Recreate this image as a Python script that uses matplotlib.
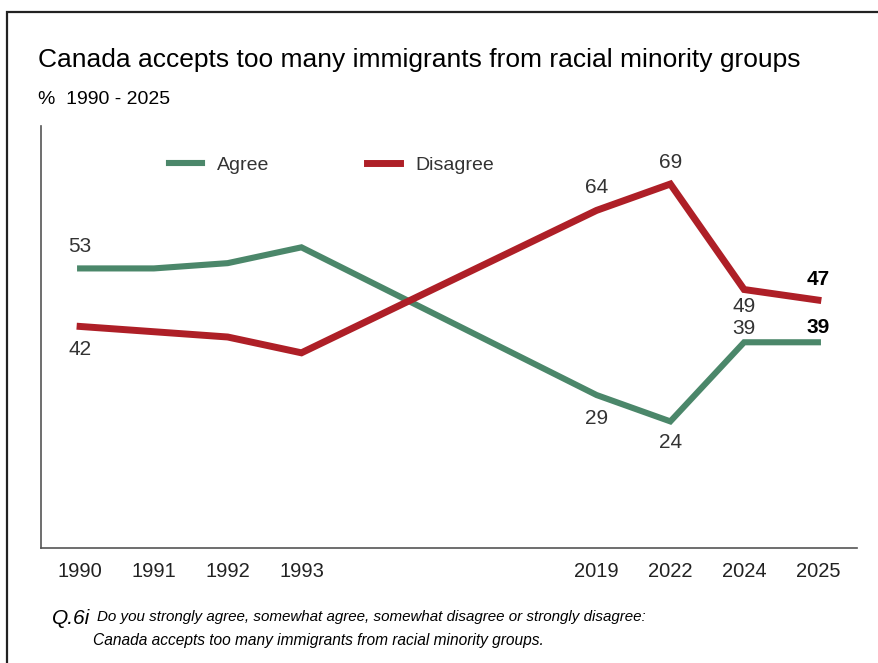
import matplotlib.pyplot as plt
from matplotlib.patches import Rectangle

# data
years = ['1990', '1991', '1992', '1993', '2019', '2022', '2024', '2025']
xpos = [0, 1, 2, 3, 7, 8, 9, 10]
agree = [53, 53, 54, 57, 29, 24, 39, 39]
disagree = [42, 41, 40, 37, 64, 69, 49, 47]

# which points get a label, where (px above (+) / below (-))
agree_labels = {0: 22, 4: -23, 5: -21, 6: 14, 7: 15}
disagree_labels = {0: -23, 4: 23, 5: 22, 6: -17, 7: 21}
bold_idx = [7]

GREEN = '#4b876a'
RED = '#ae1f27'

plt.rcParams['font.family'] = ['Liberation Sans', 'DejaVu Sans']

fig = plt.figure(figsize=(8.79, 6.63), dpi=100)
W, H = 879, 663
ax = fig.add_axes([41 / W, 1 - 548 / H, (857 - 41) / W, (548 - 126) / H])

ax.plot(xpos, agree, color=GREEN, lw=4.4, solid_joinstyle='miter', label='Agree')
ax.plot(xpos, disagree, color=RED, lw=5.0, solid_joinstyle='miter', label='Disagree')

def put_labels(vals, spec):
    for i, off in spec.items():
        bold = i in bold_idx
        ax.annotate(str(vals[i]), (xpos[i], vals[i]),
                    xytext=(0, off * 0.72), textcoords='offset points',
                    ha='center', va='center', fontsize=15,
                    fontweight='bold' if bold else 'normal',
                    color='black' if bold else '#333333')

put_labels(agree, agree_labels)
put_labels(disagree, disagree_labels)

ax.set_xlim(-0.53, 10.53)
ax.set_ylim(0, 80)
ax.set_xticks(xpos)
ax.set_xticklabels(years, fontsize=14.5, color='#222222')
ax.tick_params(axis='x', length=0, pad=10)
ax.set_yticks([])
for s in ['top', 'right']:
    ax.spines[s].set_visible(False)
for s in ['left', 'bottom']:
    ax.spines[s].set_color('#555555')
    ax.spines[s].set_linewidth(1.2)

leg = ax.legend(loc='upper left', bbox_to_anchor=(0.135, 0.97), ncol=2, frameon=False,
                fontsize=14, handlelength=1.7, handletextpad=0.8, columnspacing=5.0)
for t in leg.get_texts():
    t.set_color('#333333')

# frame around the figure
fig.patches.append(Rectangle((7 / W, -0.01), 1.0, 1 - 12 / H + 0.01, transform=fig.transFigure,
                             fill=False, edgecolor='#222222', lw=1.6))

fig.text(38 / W, 1 - 60 / H, 'Canada accepts too many immigrants from racial minority groups',
         fontsize=19, va='center', ha='left', color='black')
fig.text(38 / W, 1 - 99 / H, '%  1990 - 2025', fontsize=14, va='center', ha='left', color='black')

fig.text(52 / W, 1 - 619 / H, 'Q.6i', fontsize=15, va='center', ha='left', style='italic')
fig.text(97 / W, 1 - 617 / H,
         'Do you strongly agree, somewhat agree, somewhat disagree or strongly disagree:',
         fontsize=10.9, va='center', ha='left', style='italic')
fig.text(93 / W, 1 - 641 / H, 'Canada accepts too many immigrants from racial minority groups.',
         fontsize=11.2, va='center', ha='left', style='italic')

fig.savefig('out.png', dpi=100)
